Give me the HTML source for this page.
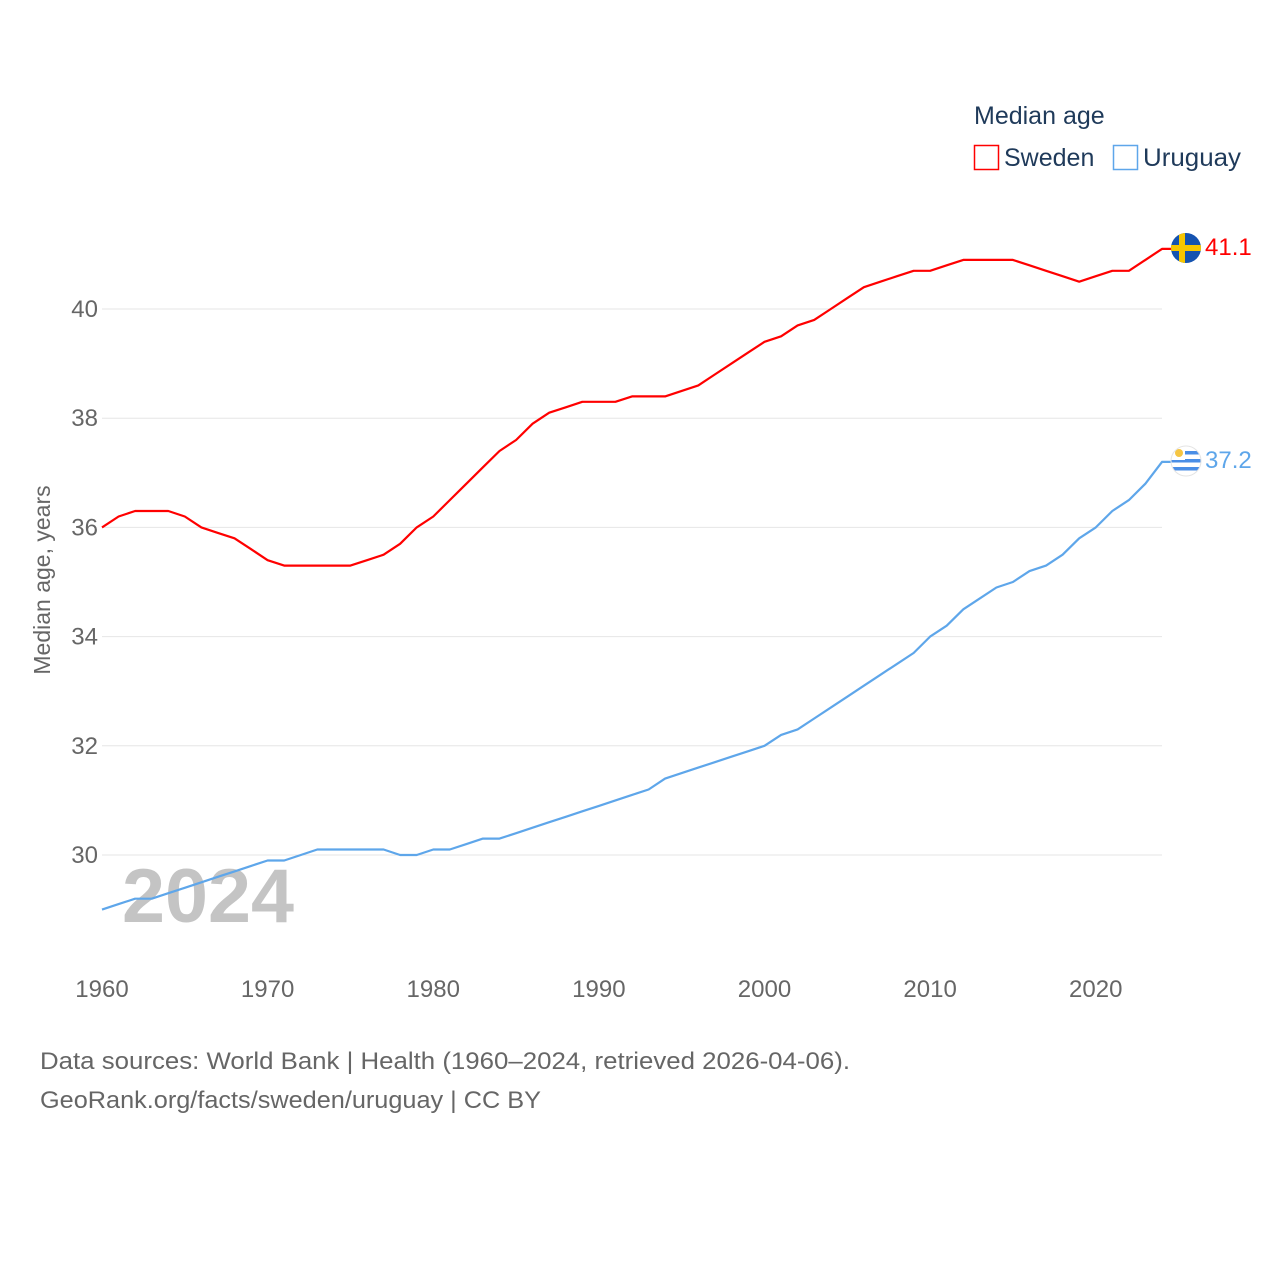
<!DOCTYPE html>
<html><head><meta charset="utf-8"><style>
body{margin:0;background:#fff;font-family:"Liberation Sans",sans-serif}
</style></head><body>
<svg id="chart" width="1280" height="1280" xmlns="http://www.w3.org/2000/svg" font-family="Liberation Sans, sans-serif">
<g id="grid"></g>
<g id="yt"></g>
<g id="xt"></g>
<text x="122" y="922" font-size="76" font-weight="bold" fill="#c4c4c4" textLength="172" lengthAdjust="spacingAndGlyphs">2024</text>
<text transform="translate(50,580) rotate(-90)" text-anchor="middle" font-size="23" fill="#666">Median age, years</text>
<g id="lines"></g>
<g>
<text x="974" y="124" font-size="25" fill="#1f3a5a">Median age</text>
<g><rect x="974.5" y="145.5" width="24" height="24" fill="none" stroke="#f00" stroke-width="1.5"/><text x="1004" y="166" font-size="25" fill="#1f3a5a">Sweden</text></g>
<g><rect x="1113.5" y="145.5" width="24" height="24" fill="none" stroke="#5ea6ea" stroke-width="1.5"/><text x="1143" y="166" font-size="25" fill="#1f3a5a" textLength="98" lengthAdjust="spacingAndGlyphs">Uruguay</text></g>
</g>
<g><clipPath id="c1"><circle cx="1186" cy="248" r="15"/></clipPath><g clip-path="url(#c1)"><rect x="1170" y="232" width="32" height="32" fill="#1553b0"/><rect x="1170" y="245" width="32" height="6" fill="#f7c600"/><rect x="1179" y="232" width="6" height="32" fill="#f7c600"/></g></g>
<g><clipPath id="c2"><circle cx="1186" cy="461" r="15"/></clipPath><g clip-path="url(#c2)"><rect x="1170" y="445" width="32" height="32" fill="#fff"/><rect x="1170" y="451" width="32" height="3.5" fill="#4a8ee6"/><rect x="1170" y="459" width="32" height="3.5" fill="#4a8ee6"/><rect x="1170" y="467" width="32" height="3.5" fill="#4a8ee6"/><rect x="1170" y="445" width="15" height="15" fill="#fff"/><circle cx="1179" cy="453" r="4" fill="#f5c542"/></g><circle cx="1186" cy="461" r="15" fill="none" stroke="#e4e4e4" stroke-width="1"/></g>
<text id="lblS" x="1205" y="255" font-size="24" fill="#f00"></text>
<text id="lblU" x="1205" y="468" font-size="24" fill="#5ea6ea"></text>
<text x="40" y="1069" font-size="24" fill="#666" textLength="810" lengthAdjust="spacingAndGlyphs">Data sources: World Bank | Health (1960–2024, retrieved 2026-04-06).</text>
<text x="40" y="1108" font-size="24" fill="#666" textLength="501" lengthAdjust="spacingAndGlyphs">GeoRank.org/facts/sweden/uruguay | CC BY</text>
</svg>
<script>
const years=[];for(let y=1960;y<=2024;y++)years.push(y);
const sweden=[36.0,36.2,36.3,36.3,36.3,36.2,36.0,35.9,35.8,35.6,35.4,35.3,35.3,35.3,35.3,35.3,35.4,35.5,35.7,36.0,36.2,36.5,36.8,37.1,37.4,37.6,37.9,38.1,38.2,38.3,38.3,38.3,38.4,38.4,38.4,38.5,38.6,38.8,39.0,39.2,39.4,39.5,39.7,39.8,40.0,40.2,40.4,40.5,40.6,40.7,40.7,40.8,40.9,40.9,40.9,40.9,40.8,40.7,40.6,40.5,40.6,40.7,40.7,40.9,41.1];
const uruguay=[29.0,29.1,29.2,29.2,29.3,29.4,29.5,29.6,29.7,29.8,29.9,29.9,30.0,30.1,30.1,30.1,30.1,30.1,30.0,30.0,30.1,30.1,30.2,30.3,30.3,30.4,30.5,30.6,30.7,30.8,30.9,31.0,31.1,31.2,31.4,31.5,31.6,31.7,31.8,31.9,32.0,32.2,32.3,32.5,32.7,32.9,33.1,33.3,33.5,33.7,34.0,34.2,34.5,34.7,34.9,35.0,35.2,35.3,35.5,35.8,36.0,36.3,36.5,36.8,37.2];
const yTicks=[30,32,34,36,38,40];
const xTicks=[1960,1970,1980,1990,2000,2010,2020];
const NS='http://www.w3.org/2000/svg';
const X=y=>102+(y-1960)*(1060/64);
const Y=v=>855-(v-30)*54.6;
function mk(t,a,p){const e=document.createElementNS(NS,t);for(const k in a)e.setAttribute(k,a[k]);p.appendChild(e);return e;}
const grid=document.getElementById('grid'),yt=document.getElementById('yt'),xt=document.getElementById('xt'),lines=document.getElementById('lines');
yTicks.forEach(v=>{
 const l=mk('line',{x1:102,x2:1162,y1:Y(v),y2:Y(v),stroke:'#e6e6e6','stroke-width':1},grid);
 
 
 const t=mk('text',{x:98,y:Y(v)+8,'text-anchor':'end','font-size':24,fill:'#666'},yt);t.textContent=v;
 
 
});
xTicks.forEach(v=>{
 const t=mk('text',{x:X(v),y:997,'text-anchor':'middle','font-size':24,fill:'#666'},xt);t.textContent=v;
 
 
});
function draw(vals,color,name){
 let d=vals.map((v,i)=>(i?'L':'M')+X(years[i]).toFixed(1)+','+Y(v).toFixed(1)).join('');
 d+='L'+(X(2024)+10)+','+Y(vals[vals.length-1]).toFixed(1);
 const p=mk('path',{d:d,fill:'none',stroke:color,'stroke-width':2.2,'stroke-linejoin':'round'},lines);
 
 
}
draw(sweden,'#f00','sweden-line');
draw(uruguay,'#5ea6ea','uruguay-line');
const ls=document.getElementById('lblS');ls.textContent=sweden[sweden.length-1].toFixed(1);ls.setAttribute('y',Y(sweden[sweden.length-1])+6);
const lu=document.getElementById('lblU');lu.textContent=uruguay[uruguay.length-1].toFixed(1);lu.setAttribute('y',Y(uruguay[uruguay.length-1])+6);
</script>
</body></html>
